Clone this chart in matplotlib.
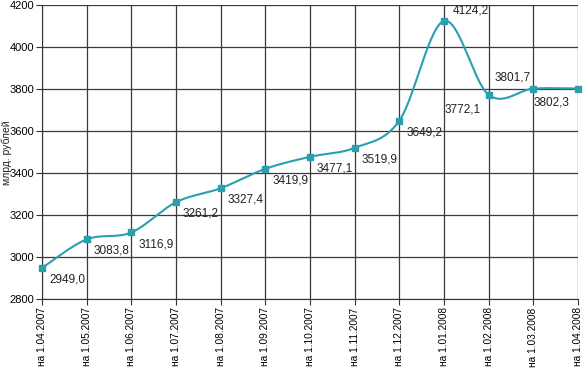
import numpy as np
import matplotlib
matplotlib.use("Agg")
import matplotlib.pyplot as plt

dates = ["на 1.04.2007", "на 1.05.2007", "на 1.06.2007", "на 1.07.2007",
         "на 1.08.2007", "на 1.09.2007", "на 1.10.2007", "на 1.11.2007",
         "на 1.12.2007", "на 1.01.2008", "на 1.02.2008", "на 1.03.2008",
         "на 1.04.2008"]
values = [2949.0, 3083.8, 3116.9, 3261.2, 3327.4, 3419.9, 3477.1, 3519.9,
          3649.2, 4124.2, 3772.1, 3801.7, 3802.3]
labels = ["2949,0", "3083,8", "3116,9", "3261,2", "3327,4", "3419,9", "3477,1",
          "3519,9", "3649,2", "4124,2", "3772,1", "3801,7", "3802,3"]

plt.rcParams['font.family'] = ['Liberation Sans', 'DejaVu Sans']

fig = plt.figure(figsize=(5.85, 3.7), dpi=100)
ax = fig.add_axes([42/585, 1-299/370, (578-42)/585, (299-5)/370])

x = np.arange(len(values))
y = np.array(values)

# Catmull-Rom smoothing for display
def catmull(x, y, n=30):
    px = np.concatenate([[2*x[0]-x[1]], x, [2*x[-1]-x[-2]]])
    py = np.concatenate([[2*y[0]-y[1]], y, [2*y[-1]-y[-2]]])
    xs, ys = [], []
    for i in range(1, len(px)-2):
        t = np.linspace(0, 1, n, endpoint=False)
        for P, out in ((px, xs), (py, ys)):
            p0, p1, p2, p3 = P[i-1], P[i], P[i+1], P[i+2]
            out.extend(0.5*((2*p1) + (-p0+p2)*t + (2*p0-5*p1+4*p2-p3)*t**2 + (-p0+3*p1-3*p2+p3)*t**3))
    xs.append(x[-1]); ys.append(y[-1])
    return np.array(xs), np.array(ys)

sx, sy = catmull(x, y)
color = "#2a9fae"
ax.plot(sx, sy, color=color, lw=1.5, zorder=3, clip_on=False)
ax.plot(x, y, 's', color=color, ms=4.5, zorder=4, clip_on=False)

offsets = {9: (6, 3, 'left', 'bottom'), 10: (-6, -6, 'right', 'top'),
           11: (-2, 4, 'right', 'bottom'), 12: (-6, -6, 'right', 'top')}
for i, (xi, yi) in enumerate(zip(x, y)):
    dx, dy, ha, va = offsets.get(i, (5, -4, 'left', 'top'))
    ax.annotate(labels[i], (xi, yi), xytext=(dx, dy), textcoords='offset points',
                ha=ha, va=va, fontsize=8.5, color='#222222', zorder=5)

ax.set_xlim(0, len(values)-1)
ax.set_ylim(2800, 4200)
ax.set_yticks(np.arange(2800, 4201, 200))
ax.set_xticks(x)
ax.set_xticklabels(dates, rotation=90, fontsize=7.3)
ax.tick_params(axis='y', labelsize=8, length=4, color='#333333', pad=1.5)
ax.tick_params(axis='x', length=4, color='#333333', pad=2)
ax.grid(True, color='#3a3a3a', lw=0.9)
ax.set_axisbelow(True)
for s in ax.spines.values():
    s.set_visible(False)
ax.spines['left'].set_visible(True)
ax.spines['bottom'].set_visible(True)
ax.spines['left'].set_color('#333333')
ax.spines['bottom'].set_color('#333333')
fig.text(6.5/585, 1-153/370, "млрд. рублей", rotation=90, fontsize=7.5,
         ha='center', va='center', color='#222222')

fig.savefig("out.png", dpi=100)
